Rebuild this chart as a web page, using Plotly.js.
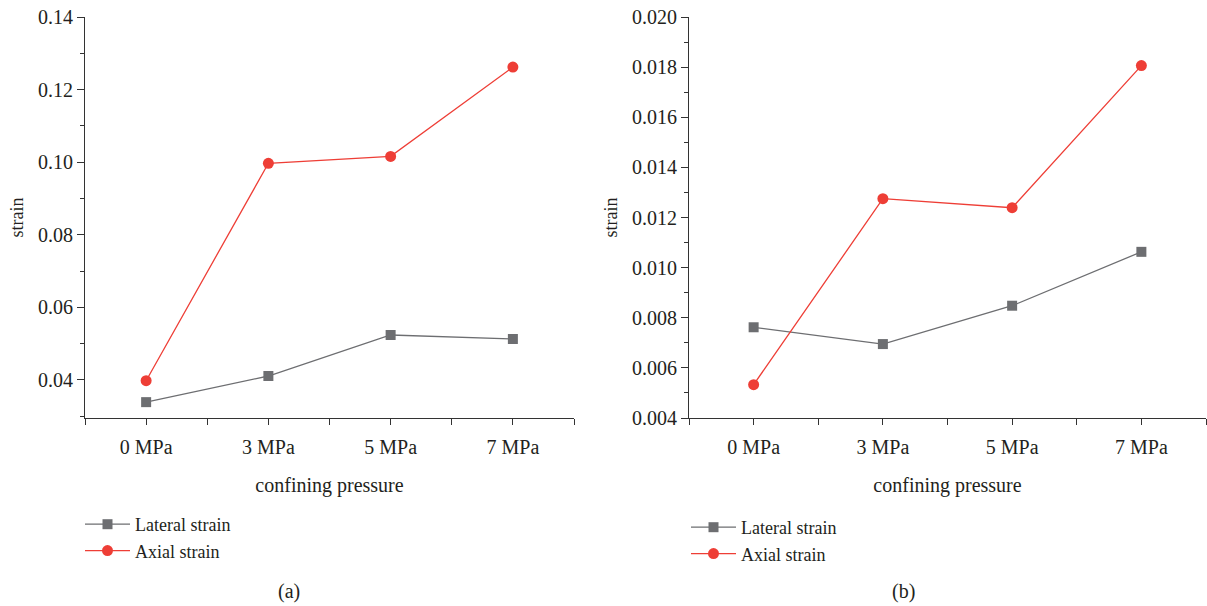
<!DOCTYPE html>
<html>
<head>
<meta charset="utf-8">
<script src="https://cdn.plot.ly/plotly-3.0.1.min.js"></script>
<style>html,body{margin:0;padding:0;background:#fff;}#chart{width:1207px;height:606px;}</style>
</head>
<body>
<div id="chart"></div>
<script>
const categories = ["0 MPa", "3 MPa", "5 MPa", "7 MPa"];
const catIndex = [0, 1, 2, 3];
const lateralA = [0.0339, 0.0411, 0.0524, 0.0513];
const axialA = [0.0398, 0.0997, 0.1016, 0.1262];
const lateralB = [0.00762, 0.00695, 0.00848, 0.01063];
const axialB = [0.00533, 0.01275, 0.01239, 0.01806];
const seriesNames = ["Lateral strain", "Axial strain"];
const panelLabels = ["(a)", "(b)"];

const gray = "#6d6e71";
const red = "#ee3e36";
const font = "Liberation Serif, Times New Roman, serif";
const textColor = "#231f20";
const fs = 20;

function tr(y, name, color, sym, xa, ya, leg) {
  return {
    x: catIndex, y: y, name: name, type: "scatter", mode: "lines+markers",
    xaxis: xa, yaxis: ya, legend: leg,
    line: {color: color, width: 1.3},
    marker: {color: color, symbol: sym, size: sym === "circle" ? 11 : 10}
  };
}

const data = [
  tr(lateralA, seriesNames[0], gray, "square", "x", "y", "legend"),
  tr(axialA, seriesNames[1], red, "circle", "x", "y", "legend"),
  tr(lateralB, seriesNames[0], gray, "square", "x2", "y2", "legend2"),
  tr(axialB, seriesNames[1], red, "circle", "x2", "y2", "legend2")
];

const W = 1207, H = 606;
const yTop = 1 - 17 / H, yBot = 1 - 418 / H;

function xax(domain, anchor) {
  return {
    domain: domain, anchor: anchor, range: [-0.5, 3.5],
    tickvals: catIndex, ticktext: categories,
    showline: true, linecolor: "#333", linewidth: 1,
    ticks: "outside", ticklen: 6, tickcolor: "#333", tickwidth: 1,
    minor: {dtick: 0.5, tick0: -0.5, ticks: "outside", ticklen: 6, tickcolor: "#333", tickwidth: 1, showgrid: false},
    showgrid: false, zeroline: false,
    ticklabelstandoff: 5,
    tickfont: {family: font, size: fs, color: textColor},
    title: {text: "confining pressure", font: {family: font, size: fs, color: textColor}, standoff: 20}
  };
}
function yax(domain, anchor, range, dtick, mdtick, fmt) {
  return {
    domain: domain, anchor: anchor, range: range,
    dtick: dtick, tick0: 0, tickformat: fmt,
    showline: true, linecolor: "#333", linewidth: 1,
    ticks: "outside", ticklen: 7, tickcolor: "#333", tickwidth: 1,
    minor: {dtick: mdtick, tick0: 0, ticks: "outside", ticklen: 4, tickcolor: "#333", tickwidth: 1, showgrid: false},
    showgrid: false, zeroline: false,
    tickfont: {family: font, size: fs, color: textColor},
    title: {text: "strain", font: {family: font, size: 18, color: textColor}, standoff: 9}
  };
}

const legFont = {family: font, size: 18, color: textColor};
const layout = {
  width: W, height: H,
  margin: {l: 0, r: 0, t: 0, b: 0},
  paper_bgcolor: "#fff", plot_bgcolor: "#fff",
  font: {family: font, color: textColor},
  xaxis: xax([85 / W, 574 / W], "y"),
  yaxis: yax([yBot, yTop], "x", [0.02953, 0.14], 0.02, 0.01, ".2f"),
  xaxis2: xax([689 / W, 1206 / W], "y2"),
  yaxis2: yax([yBot, yTop], "x2", [0.004, 0.020], 0.002, 0.001, ".3f"),
  legend: {x: 80 / W, y: 1 - 506 / H, xanchor: "left", yanchor: "top", itemwidth: 45,
    font: legFont, bgcolor: "rgba(0,0,0,0)", tracegroupgap: 0},
  legend2: {x: 686 / W, y: 1 - 509 / H, xanchor: "left", yanchor: "top", itemwidth: 45,
    font: legFont, bgcolor: "rgba(0,0,0,0)", tracegroupgap: 0},
  annotations: [
    {text: panelLabels[0], x: 289 / W, y: 1 - 591 / H, xref: "paper", yref: "paper", showarrow: false,
     xanchor: "center", yanchor: "middle", font: {family: font, size: fs, color: textColor}},
    {text: panelLabels[1], x: 903 / W, y: 1 - 591 / H, xref: "paper", yref: "paper", showarrow: false,
     xanchor: "center", yanchor: "middle", font: {family: font, size: fs, color: textColor}}
  ]
};

Plotly.newPlot("chart", data, layout, {displayModeBar: false, staticPlot: true});
</script>
</body>
</html>
